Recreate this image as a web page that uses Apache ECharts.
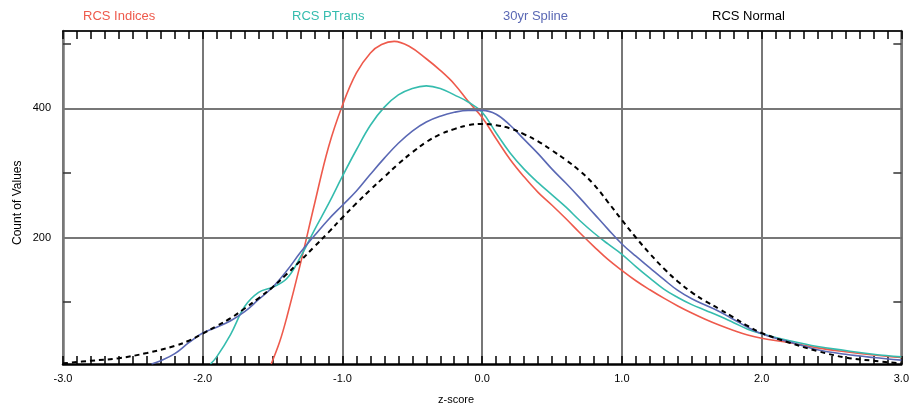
<!DOCTYPE html>
<html>
<head>
<meta charset="utf-8">
<script src="https://cdn.jsdelivr.net/npm/echarts@6/dist/echarts.min.js"></script>
<style>
html,body{margin:0;padding:0;background:#fff;}
#chart{width:912px;height:407px;}
</style>
</head>
<body>
<div id="chart"></div>
<script>
// ---- data ----
const seriesNames = ['RCS Indices', 'RCS PTrans', '30yr Spline', 'RCS Normal'];
const seriesColors = ['#ee5a4c', '#35bcae', '#5a68b4', '#000000'];

const rcsIndices = [
  [-1.51, 4], [-1.45, 38], [-1.4, 75], [-1.3, 160], [-1.2, 252], [-1.1, 340], [-1.0, 405],
  [-0.9, 455], [-0.8, 486], [-0.72, 499], [-0.63, 504], [-0.52, 496], [-0.4, 477],
  [-0.3, 459], [-0.2, 438], [-0.1, 411], [0.0, 386], [0.1, 353], [0.2, 321],
  [0.3, 294], [0.4, 270], [0.5, 250], [0.6, 229], [0.7, 207], [0.8, 186],
  [0.9, 166], [1.0, 149], [1.1, 133], [1.2, 119], [1.3, 106], [1.4, 94],
  [1.5, 83], [1.6, 73], [1.7, 64], [1.8, 56], [1.9, 49], [2.0, 44],
  [2.2, 37], [2.4, 29], [2.6, 23], [2.8, 18], [3.0, 14]
];

const rcsPTrans = [
  [-1.945, 4], [-1.9, 15], [-1.8, 50], [-1.7, 93], [-1.6, 115], [-1.5, 123],
  [-1.4, 136], [-1.3, 170], [-1.2, 212], [-1.1, 252], [-1.0, 295], [-0.9, 336],
  [-0.8, 374], [-0.7, 402], [-0.6, 421], [-0.5, 431], [-0.4, 435], [-0.3, 431],
  [-0.2, 421], [-0.1, 410], [0.0, 394], [0.1, 362], [0.2, 331], [0.3, 306],
  [0.4, 285], [0.5, 266], [0.6, 247], [0.7, 226], [0.8, 207], [0.9, 190],
  [1.0, 174], [1.1, 155], [1.2, 137], [1.3, 120], [1.4, 107], [1.5, 96],
  [1.6, 87], [1.7, 78], [1.8, 68], [1.9, 58], [2.0, 51], [2.2, 40],
  [2.4, 31], [2.6, 25], [2.8, 19], [3.0, 15]
];

const spline30yr = [
  [-2.366, 4], [-2.3, 9], [-2.2, 20], [-2.1, 37], [-2.0, 52], [-1.9, 61],
  [-1.8, 71], [-1.7, 85], [-1.6, 104], [-1.5, 123], [-1.4, 148], [-1.3, 177],
  [-1.2, 203], [-1.1, 228], [-1.0, 250], [-0.9, 272], [-0.8, 298], [-0.7, 323],
  [-0.6, 346], [-0.5, 365], [-0.4, 379], [-0.3, 388], [-0.2, 394], [-0.1, 397],
  [0.0, 397], [0.1, 391], [0.2, 374], [0.3, 352], [0.4, 330], [0.5, 306],
  [0.6, 284], [0.7, 261], [0.8, 237], [0.9, 213], [1.0, 190], [1.1, 171],
  [1.2, 153], [1.3, 135], [1.4, 118], [1.5, 105], [1.6, 95], [1.7, 85],
  [1.8, 73], [1.9, 61], [2.0, 51], [2.2, 38], [2.4, 26], [2.6, 19],
  [2.8, 14], [3.0, 10]
];

const rcsNormal = [
  [-3.0, 5], [-2.8, 9], [-2.6, 13], [-2.4, 21], [-2.2, 32], [-2.1, 40],
  [-2.0, 51], [-1.9, 63], [-1.8, 75], [-1.7, 90], [-1.6, 106], [-1.5, 123],
  [-1.4, 143], [-1.3, 164], [-1.2, 186], [-1.1, 208], [-1.0, 231], [-0.9, 253],
  [-0.8, 274], [-0.7, 294], [-0.6, 314], [-0.5, 332], [-0.4, 348], [-0.3, 360],
  [-0.2, 368], [-0.1, 374], [0.0, 376], [0.1, 374], [0.2, 369], [0.3, 360],
  [0.4, 349], [0.5, 335], [0.6, 320], [0.7, 303], [0.8, 282], [0.9, 255],
  [1.0, 227], [1.1, 200], [1.2, 175], [1.3, 152], [1.4, 132], [1.5, 115],
  [1.6, 101], [1.7, 89], [1.8, 76], [1.9, 63], [2.0, 52], [2.2, 37],
  [2.4, 24], [2.6, 14], [2.8, 9], [3.0, 5]
];

const xTicks = [-3, -2, -1, 0, 1, 2, 3];
const yLabelValues = [200, 400];
const yTickValues = [100, 200, 300, 400, 500];
const yGridValues = [200, 400];
const xTitle = 'z-score';
const yTitle = 'Count of Values';

// ---- chart ----
const chart = echarts.init(document.getElementById('chart'), null, {renderer: 'canvas'});
const FONT = 'Liberation Sans, DejaVu Sans, sans-serif';
const allData = [rcsIndices, rcsPTrans, spline30yr, rcsNormal];

const xAxisBase = {
  type: 'value', min: xTicks[0], max: xTicks[xTicks.length - 1], interval: 1,
  axisTick: {show: true, inside: true, length: 8, lineStyle: {color: '#000', width: 1.5}},
  minorTick: {show: true, splitNumber: 10, length: 8, lineStyle: {color: '#000', width: 1.5}},
  splitLine: {show: false}, minorSplitLine: {show: false}
};

const yAxisBase = {
  type: 'value', min: 4, max: 520,
  axisTick: {show: true, inside: true, length: 8, customValues: yTickValues, lineStyle: {color: '#333', width: 1.5}},
  splitLine: {show: false}
};

const series = allData.map((d, i) => ({
  name: seriesNames[i], type: 'line', data: d, smooth: 0.4, showSymbol: false,
  clip: true, z: 3 + i,
  lineStyle: {color: seriesColors[i], width: i === 3 ? 2 : 1.6, type: i === 3 ? [5, 4] : 'solid'},
  itemStyle: {color: seriesColors[i]}
}));

series.unshift({
  name: 'grid', type: 'line', data: [], z: 1, silent: true,
  markLine: {
    silent: true, symbol: 'none', label: {show: false},
    lineStyle: {color: '#777', width: 2, type: 'solid'},
    data: yGridValues.map(v => ({yAxis: v}))
  }
});

const legendX = [83, 292, 503, 712];

chart.setOption({
  animation: false,
  backgroundColor: '#fff',
  grid: {left: 63, right: 10, top: 31, bottom: 43, containLabel: false},
  xAxis: [
    Object.assign({}, xAxisBase, {
      position: 'bottom',
      axisLine: {show: true, onZero: false, lineStyle: {color: '#000', width: 2.5}},
      splitLine: {show: true, lineStyle: {color: '#777', width: 2}},
      axisLabel: {show: true, margin: 9, color: '#000', fontFamily: FONT, fontSize: 11,
        formatter: v => v.toFixed(1)}
    }),
    Object.assign({}, xAxisBase, {
      position: 'top',
      axisLine: {show: true, onZero: false, lineStyle: {color: '#222', width: 2}},
      axisLabel: {show: false}
    })
  ],
  yAxis: [
    Object.assign({}, yAxisBase, {
      position: 'left',
      axisLine: {show: true, onZero: false, lineStyle: {color: '#777', width: 2.5}},
      axisLabel: {show: true, customValues: yLabelValues, margin: 12, color: '#000',
        fontFamily: FONT, fontSize: 11}
    }),
    Object.assign({}, yAxisBase, {
      position: 'right',
      axisLine: {show: true, onZero: false, lineStyle: {color: '#777', width: 2.5}},
      axisLabel: {show: false}
    })
  ],
  graphic: seriesNames.map((n, i) => ({
    type: 'text', left: legendX[i], top: 10, silent: true,
    style: {text: n, fill: i === 3 ? '#000' : seriesColors[i], font: '13px ' + FONT}
  })).concat([
    {type: 'text', left: 'center', top: 394, silent: true,
      style: {text: xTitle, fill: '#000', font: '11px ' + FONT, x: 0}},
    {type: 'text', x: 12, y: 245, rotation: Math.PI / 2, silent: true,
      style: {text: yTitle, fill: '#000', font: '12px ' + FONT}}
  ]),
  series: series
});
</script>
</body>
</html>
